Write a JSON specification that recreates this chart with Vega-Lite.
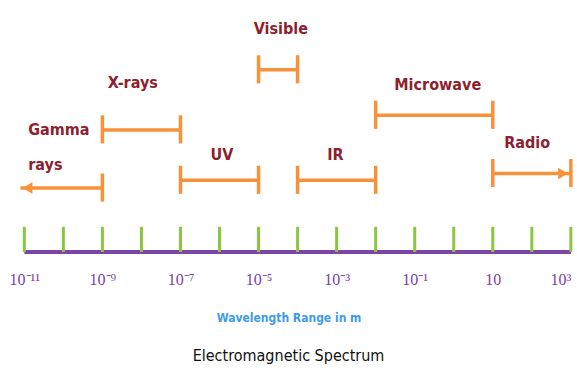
{
  "$schema": "https://vega.github.io/schema/vega-lite/v6.json",
  "width": 577,
  "height": 252,
  "autosize": {"type": "none"},
  "padding": {"left": 0, "right": 0, "top": 0, "bottom": 120},
  "background": "white",
  "config": {"view": {"stroke": null}},
  "title": {
    "text": "Electromagnetic Spectrum",
    "orient": "bottom",
    "font": "DejaVu Sans Condensed",
    "fontSize": 16,
    "fontWeight": "normal",
    "color": "#111111",
    "offset": 25,
    "anchor": "middle"
  },
  "datasets": {
    "ticks": [
      {"e": -11}, {"e": -10}, {"e": -9}, {"e": -8}, {"e": -7}, {"e": -6}, {"e": -5},
      {"e": -4}, {"e": -3}, {"e": -2}, {"e": -1}, {"e": 0}, {"e": 1}, {"e": 2}, {"e": 3}
    ],
    "bands": [
      {"band": "Gamma rays", "start": -11.1, "end": -9, "level": 66},
      {"band": "X-rays", "start": -9, "end": -7, "level": 126},
      {"band": "UV", "start": -7, "end": -5, "level": 74},
      {"band": "Visible", "start": -5, "end": -4, "level": 188},
      {"band": "IR", "start": -4, "end": -2, "level": 74},
      {"band": "Microwave", "start": -2, "end": 1, "level": 141},
      {"band": "Radio", "start": 1, "end": 3, "level": 81}
    ],
    "caps": [
      {"e": -9, "level": 66},
      {"e": -9, "level": 126}, {"e": -7, "level": 126},
      {"e": -7, "level": 74}, {"e": -5, "level": 74},
      {"e": -5, "level": 188}, {"e": -4, "level": 188},
      {"e": -4, "level": 74}, {"e": -2, "level": 74},
      {"e": -2, "level": 141}, {"e": 1, "level": 141},
      {"e": 1, "level": 81}, {"e": 3, "level": 81}
    ],
    "arrows": [
      {"e": -10.92, "level": 66, "dir": "triangle-left"},
      {"e": 2.8, "level": 81, "dir": "triangle-right"}
    ],
    "labels": [
      {"text": "Gamma", "e": -10.9, "level": 126},
      {"text": "rays", "e": -10.9, "level": 90}
    ],
    "clabels": [
      {"text": "X-rays", "e": -8.22, "level": 174},
      {"text": "UV", "e": -5.94, "level": 100},
      {"text": "Visible", "e": -4.43, "level": 230},
      {"text": "IR", "e": -3.03, "level": 100},
      {"text": "Microwave", "e": -0.41, "level": 172},
      {"text": "Radio", "e": 1.88, "level": 112}
    ]
  },
  "layer": [
    {
      "data": {"values": [{"a": -11, "b": 3, "level": 0}]},
      "mark": {"type": "rule", "color": "#7b45a8", "strokeWidth": 4},
      "encoding": {
        "x": {
          "field": "a", "type": "quantitative",
          "scale": {"domain": [-11.623, 3.157], "nice": false, "zero": false},
          "axis": {
            "values": [-11, -9, -7, -5, -3, -1, 1, 3],
            "labelExpr": "datum.value == -11 ? '10⁻¹¹' : datum.value == -9 ? '10⁻⁹' : datum.value == -7 ? '10⁻⁷' : datum.value == -5 ? '10⁻⁵' : datum.value == -3 ? '10⁻³' : datum.value == -1 ? '10⁻¹' : datum.value == 1 ? '10' : '10³'",
            "labelAlign": {"condition": {"test": "datum.value == 3", "value": "right"}, "value": "center"},
            "domain": false,
            "ticks": false,
            "grid": false,
            "labelFont": "Liberation Serif",
            "labelFontSize": 16,
            "labelColor": "#7a3fa3",
            "labelPadding": 19,
            "labelFlush": false,
            "labelOverlap": false,
            "title": "Wavelength Range in m",
            "titleFont": "DejaVu Sans Condensed",
            "titleFontSize": 12,
            "titleFontWeight": "bold",
            "titleColor": "#3d9be9",
            "titlePadding": 25
          }
        },
        "x2": {"field": "b"},
        "y": {"field": "level", "type": "quantitative", "scale": {"domain": [0, 252]}, "axis": null}
      }
    },
    {
      "data": {"name": "ticks"},
      "transform": [{"calculate": "0", "as": "y0"}, {"calculate": "26", "as": "y1"}],
      "mark": {"type": "rule", "color": "#8cc63f", "strokeWidth": 3},
      "encoding": {
        "x": {"field": "e", "type": "quantitative"},
        "y": {"field": "y0", "type": "quantitative"},
        "y2": {"field": "y1"}
      }
    },
    {
      "data": {"name": "bands"},
      "mark": {"type": "rule", "color": "#f7923a", "strokeWidth": 3.5},
      "encoding": {
        "x": {"field": "start", "type": "quantitative"},
        "x2": {"field": "end"},
        "y": {"field": "level", "type": "quantitative"}
      }
    },
    {
      "data": {"name": "caps"},
      "transform": [{"calculate": "datum.level - 14", "as": "lo"}, {"calculate": "datum.level + 15", "as": "hi"}],
      "mark": {"type": "rule", "color": "#f7923a", "strokeWidth": 3.5},
      "encoding": {
        "x": {"field": "e", "type": "quantitative"},
        "y": {"field": "lo", "type": "quantitative"},
        "y2": {"field": "hi"}
      }
    },
    {
      "data": {"name": "arrows"},
      "mark": {"type": "point", "filled": true, "color": "#f7923a", "size": 130, "opacity": 1},
      "encoding": {
        "x": {"field": "e", "type": "quantitative"},
        "y": {"field": "level", "type": "quantitative"},
        "shape": {"field": "dir", "type": "nominal", "scale": null}
      }
    },
    {
      "data": {"name": "labels"},
      "mark": {"type": "text", "align": "left", "baseline": "middle", "font": "DejaVu Sans Condensed", "fontSize": 16, "fontWeight": "bold", "color": "#8e1f2f"},
      "encoding": {
        "x": {"field": "e", "type": "quantitative"},
        "y": {"field": "level", "type": "quantitative"},
        "text": {"field": "text"}
      }
    },
    {
      "data": {"name": "clabels"},
      "mark": {"type": "text", "align": "center", "baseline": "middle", "font": "DejaVu Sans Condensed", "fontSize": 16, "fontWeight": "bold", "color": "#8e1f2f"},
      "encoding": {
        "x": {"field": "e", "type": "quantitative"},
        "y": {"field": "level", "type": "quantitative"},
        "text": {"field": "text"}
      }
    }
  ]
}
